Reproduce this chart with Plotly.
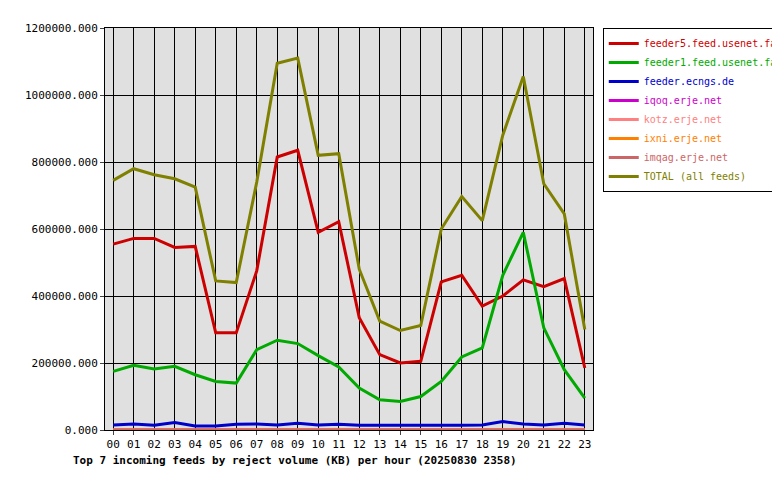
import plotly.graph_objects as go

hours = ['%02d' % h for h in range(24)]

feeder5 = [555e3, 572e3, 572e3, 545e3, 548e3, 290e3, 290e3, 475e3, 815e3, 835e3, 590e3, 622e3,
           335e3, 225e3, 200e3, 205e3, 442e3, 462e3, 370e3, 400e3, 448e3, 428e3, 452e3, 185e3]
feeder1 = [175e3, 193e3, 182e3, 190e3, 165e3, 145e3, 140e3, 240e3, 268e3, 258e3, 222e3, 188e3,
           125e3, 90e3, 85e3, 100e3, 145e3, 218e3, 245e3, 462e3, 590e3, 305e3, 180e3, 95e3]
ecngs = [15e3, 18e3, 14e3, 22e3, 12e3, 12e3, 17e3, 18e3, 15e3, 20e3, 15e3, 17e3,
         14e3, 14e3, 14e3, 12e3, 14e3, 14e3, 15e3, 25e3, 18e3, 15e3, 20e3, 15e3]
iqoq = [0] * 24
kotz = [0] * 24
ixni = [0] * 24
imqag = [0] * 24
total = [745e3, 780e3, 762e3, 750e3, 725e3, 445e3, 440e3, 740e3, 1095e3, 1110e3, 820e3, 825e3,
         480e3, 325e3, 297e3, 312e3, 600e3, 697e3, 625e3, 880e3, 1055e3, 735e3, 645e3, 300e3]

series = [
    ('feeder5.feed.usenet.farm', feeder5, '#cc0000'),
    ('feeder1.feed.usenet.farm', feeder1, '#00aa00'),
    ('feeder.ecngs.de', ecngs, '#0000cc'),
    ('iqoq.erje.net', iqoq, '#cc00cc'),
    ('kotz.erje.net', kotz, '#ff8080'),
    ('ixni.erje.net', ixni, '#ff8000'),
    ('imqag.erje.net', imqag, '#cc6666'),
    ('TOTAL (all feeds)', total, '#808000'),
]

font = 'DejaVu Sans Mono'
fig = go.Figure()
for name, vals, col in series:
    fig.add_trace(go.Scatter(x=hours, y=vals, mode='lines',
                             name='<span style="color:%s">%s</span>' % (col, name),
                             line=dict(color=col, width=3)))

fig.update_layout(
    width=780, height=480,
    margin=dict(l=97, r=195, t=20, b=58, autoexpand=False),
    paper_bgcolor='white', plot_bgcolor='#e0e0e0',
    font=dict(family=font, size=11, color='black'),
    showlegend=True,
    legend=dict(x=1.02, y=1, xanchor='left', yanchor='top',
                bordercolor='black', borderwidth=1, bgcolor='white',
                font=dict(family=font, size=10), tracegroupgap=0,
                itemwidth=30),
    xaxis=dict(type='category', range=[-0.4, 23.4], showgrid=True, gridcolor='black', gridwidth=1,
               linecolor='black', mirror=True, ticks='outside', ticklen=4,
               tickfont=dict(size=11)),
    yaxis=dict(range=[0, 1200000], dtick=200000, tickformat='.3f',
               showgrid=True, gridcolor='black', gridwidth=1,
               linecolor='black', mirror=True, ticks='outside', ticklen=4,
               zeroline=False),
    annotations=[dict(text='<b>Top 7 incoming feeds by reject volume (KB) per hour (20250830 2358)</b>',
                      xref='paper', yref='paper', x=-0.07, y=-0.055, xanchor='left', yanchor='top',
                      showarrow=False, font=dict(family=font, size=11))],
)

fig.write_html("out.html")
